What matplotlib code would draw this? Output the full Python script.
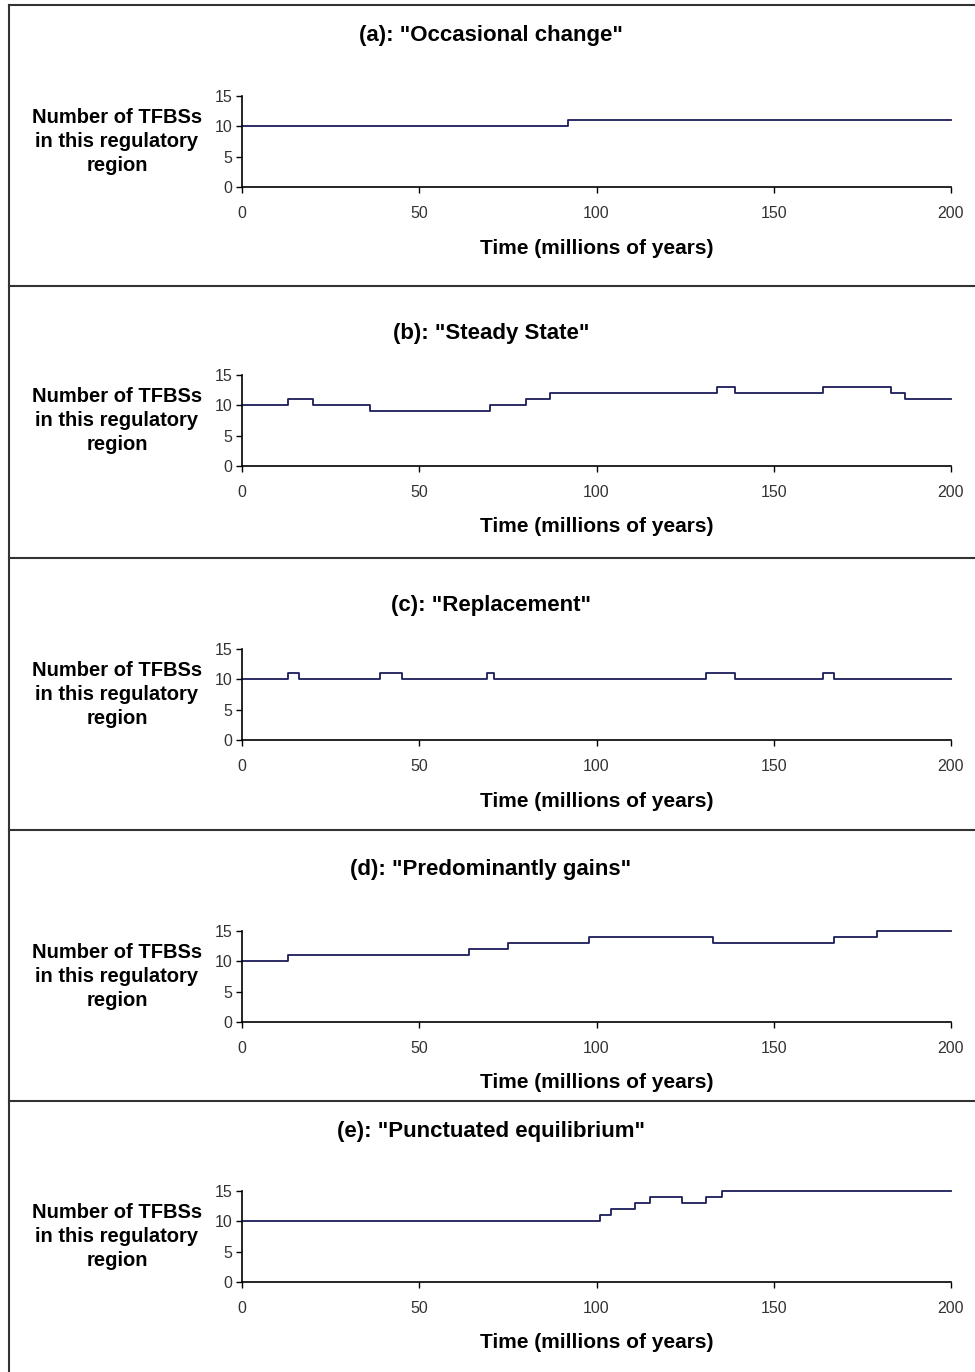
import matplotlib
matplotlib.use("Agg")
import matplotlib.pyplot as plt
from matplotlib.lines import Line2D

plt.rcParams['font.family'] = ['Liberation Sans', 'DejaVu Sans']

W, H = 975, 1372

titles = ['(a): "Occasional change"', '(b): "Steady State"', '(c): "Replacement"',
          '(d): "Predominantly gains"', '(e): "Punctuated equilibrium"']

# change times (millions of years) and number of TFBSs from each time on
t_a = [0, 92, 200]
v_a = [10, 11, 11]
t_b = [0, 13, 20, 36, 70, 80, 87, 134, 139, 164, 183, 187, 200]
v_b = [10, 11, 10, 9, 10, 11, 12, 13, 12, 13, 12, 11, 11]
t_c = [0, 13, 16, 39, 45, 69, 71, 131, 139, 164, 167, 200]
v_c = [10, 11, 10, 11, 10, 11, 10, 11, 10, 11, 10, 10]
t_d = [0, 13, 64, 75, 98, 133, 167, 179, 200]
v_d = [10, 11, 12, 13, 14, 13, 14, 15, 15]
t_e = [0, 101, 104, 111, 115, 124, 131, 135.5, 200]
v_e = [10, 11, 12, 13, 14, 13, 14, 15, 15]

series = [(t_a, v_a), (t_b, v_b), (t_c, v_c), (t_d, v_d), (t_e, v_e)]
xticks = [0, 50, 100, 150, 200]
yticks = [0, 5, 10, 15]

# layout in pixels
ax_top = [96, 375, 649, 931, 1191]
ax_h = 91
ax_left, ax_right = 242, 951
title_y = [35, 333, 605, 870, 1131]
xlabel_y = [248, 527, 801, 1083, 1343]
dividers = [286, 558, 830, 1101]

fig = plt.figure(figsize=(W / 100, H / 100), dpi=100)

def fx(x):
    return x / W

def fy(y):
    return 1 - y / H

for i, (t, v) in enumerate(series):
    top = ax_top[i]
    ax = fig.add_axes([fx(ax_left), fy(top + ax_h), fx(ax_right - ax_left), ax_h / H])
    ax.step(t, v, where='post', color='#1c1c5a', lw=1.3, clip_on=False)
    ax.set_xlim(0, 200)
    ax.set_ylim(0, 15)
    ax.set_xticks(xticks)
    ax.set_yticks(yticks)
    ax.spines['top'].set_visible(False)
    ax.spines['right'].set_visible(False)
    ax.spines['left'].set_linewidth(1.2)
    ax.spines['bottom'].set_linewidth(1.2)
    ax.tick_params(direction='out', length=4, width=1, labelsize=11.5,
                   labelcolor='#333333', pad=10)
    ax.tick_params(axis='y', pad=3)
    ax.patch.set_alpha(0)

    fig.text(fx(491), fy(title_y[i]), titles[i], ha='center', va='center',
             fontsize=16, fontweight='bold')
    fig.text(fx(597), fy(xlabel_y[i]), 'Time (millions of years)', ha='center',
             va='center', fontsize=15, fontweight='bold')
    fig.text(fx(117), fy(top + ax_h / 2), 'Number of TFBSs\nin this regulatory\nregion',
             ha='center', va='center', fontsize=14.5, fontweight='bold', linespacing=1.35)

# panel borders
fig.add_artist(Line2D([fx(9), fx(9)], [fy(5), fy(H)], transform=fig.transFigure,
                      color='#333333', lw=1.5))
fig.add_artist(Line2D([fx(9), 1], [fy(5), fy(5)], transform=fig.transFigure,
                      color='#333333', lw=1.5))
for d in dividers:
    fig.add_artist(Line2D([fx(9), 1], [fy(d), fy(d)], transform=fig.transFigure,
                          color='#333333', lw=1.5))

fig.savefig('out.png', dpi=100)
